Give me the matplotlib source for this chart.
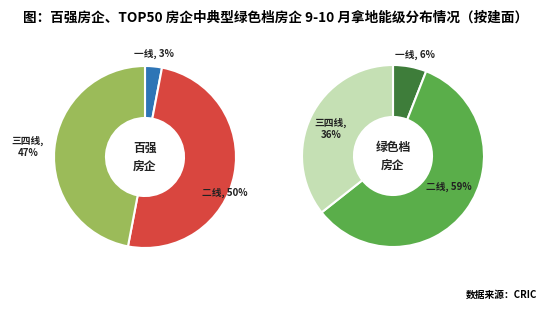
import matplotlib.pyplot as plt

plt.rcParams['font.family'] = ['Noto Sans CJK SC', 'DejaVu Sans']

# land acquisition share by city tier (by floor area), Sep-Oct
tiers = ['一线', '二线', '三四线']
top100_share = [3, 50, 47]
green_share = [6, 59, 36]

top100_colors = ['#2E75B6', '#D9463F', '#9BBB59']
green_colors = ['#3E7D3A', '#5AAE4A', '#C5E0B4']

fig = plt.figure(figsize=(5.52, 3.27), dpi=100)
ax = fig.add_axes([0, 0, 1, 1])

H = 327

def donut(cx, cy, vals, colors, center_text):
    ax.pie(vals, colors=colors, startangle=90, counterclock=False,
           center=(cx, H - cy), radius=91, frame=True,
           wedgeprops=dict(width=52, edgecolor='white', linewidth=1.5))
    ax.text(cx, H - cy, center_text, ha='center', va='center',
            fontsize=8.5, fontweight='bold', color='#222222', linespacing=1.5)

donut(145, 157, top100_share, top100_colors, '百强\n房企')
donut(393, 156, green_share, green_colors, '绿色档\n房企')

ax.set_xlim(0, 552)
ax.set_ylim(0, 327)
ax.set_aspect('equal')
ax.axis('off')

lab = dict(fontsize=7, fontweight='bold', color='#222222')
ax.text(154, H - 54, f'{tiers[0]}, {top100_share[0]}%', ha='center', va='center', **lab)
ax.text(225, H - 193, f'{tiers[1]}, {top100_share[1]}%', ha='center', va='center', **lab)
ax.text(28, H - 147, f'{tiers[2]},\n{top100_share[2]}%', ha='center', va='center',
        linespacing=1.3, **lab)

ax.text(415, H - 55, f'{tiers[0]}, {green_share[0]}%', ha='center', va='center', **lab)
ax.text(449, H - 187, f'{tiers[1]}, {green_share[1]}%', ha='center', va='center', **lab)
ax.text(331, H - 129, f'{tiers[2]},\n{green_share[2]}%', ha='center', va='center',
        linespacing=1.3, **lab)

ax.text(276, H - 18, '图：百强房企、TOP50 房企中典型绿色档房企 9-10 月拿地能级分布情况（按建面）',
        ha='center', va='center', fontsize=9.8, fontweight='bold', color='black')
ax.text(537, H - 295, '数据来源：CRIC', ha='right', va='center',
        fontsize=7, fontweight='bold', color='black')

fig.savefig('out.png', dpi=100)
